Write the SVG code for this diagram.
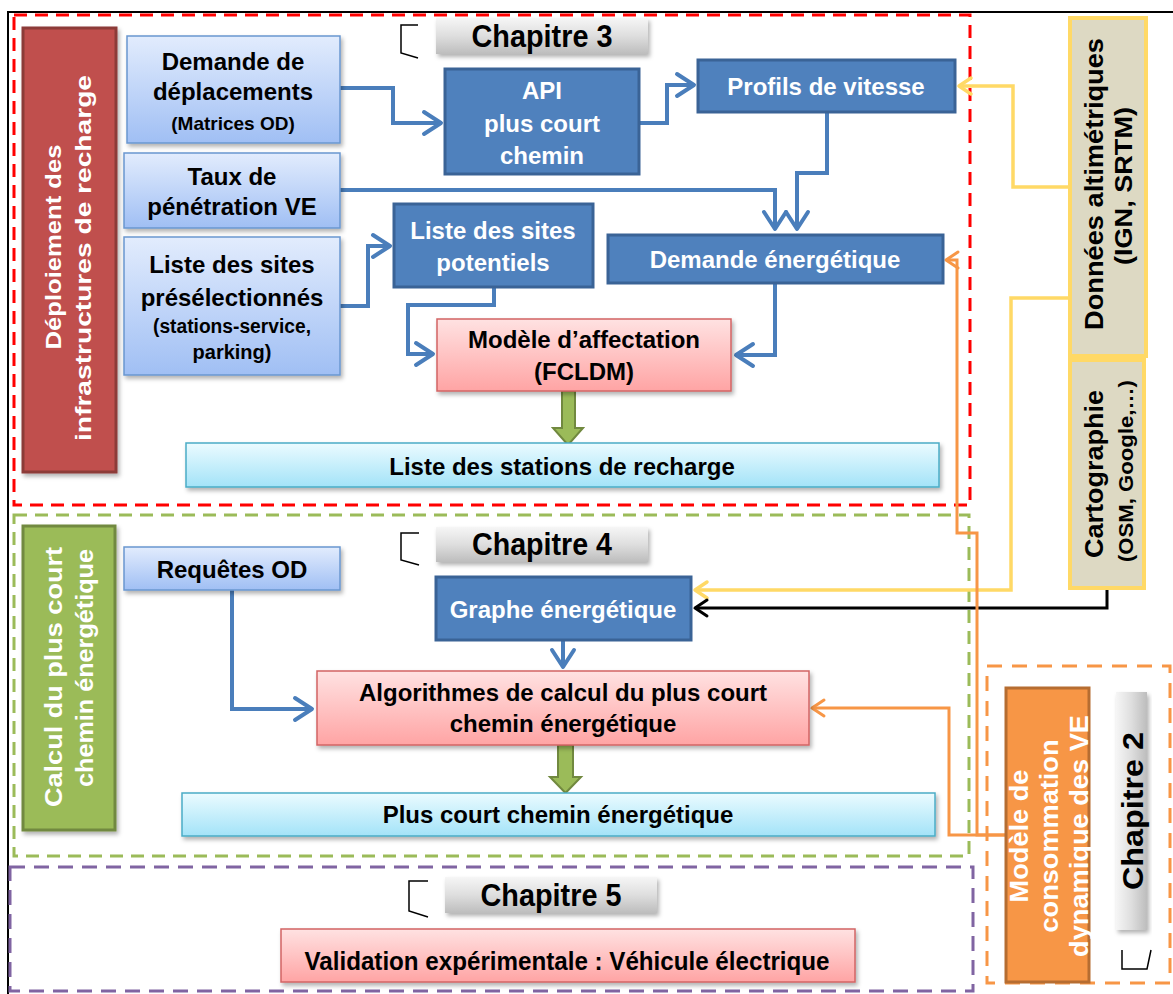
<svg xmlns="http://www.w3.org/2000/svg" width="1173" height="994" viewBox="0 0 1173 994">
<defs>
<style>
.t{font-family:"Liberation Sans",Arial,sans-serif;font-weight:bold;font-size:24px;text-anchor:middle}
.w{fill:#ffffff}
.k{fill:#000000}
.lb{fill:url(#gLB);stroke:#6a97d0;stroke-width:1.5}
.db{fill:#4f81bd;stroke:#3a6396;stroke-width:3}
.pk{fill:url(#gPK);stroke:#d26464;stroke-width:1.5}
.cy{fill:url(#gCY);stroke:#4bacc6;stroke-width:1.5}
.gy{fill:url(#gGR)}
.dat{fill:#ddd9c3;stroke:#ffd966;stroke-width:4}
.frame{fill:none;stroke-width:3}
.br{fill:none;stroke:#000;stroke-width:1.5}
.cb{fill:none;stroke:#4a7ebb;stroke-width:4;marker-end:url(#aB)}
.cyl{fill:none;stroke:#ffd966;stroke-width:3.5;marker-end:url(#aY)}
.ck{fill:none;stroke:#000;stroke-width:3;marker-end:url(#aK)}
.co{fill:none;stroke:#f79646;stroke-width:3;marker-end:url(#aO)}
.ga{fill:#9bbb59;stroke:#71893f;stroke-width:2}
</style>
<linearGradient id="gLB" x1="0" y1="0" x2="0" y2="1"><stop offset="0" stop-color="#e2ecfd"/><stop offset="1" stop-color="#a0bff4"/></linearGradient>
<linearGradient id="gPK" x1="0" y1="0" x2="0" y2="1"><stop offset="0" stop-color="#ffe2e2"/><stop offset="1" stop-color="#ffa4a4"/></linearGradient>
<linearGradient id="gCY" x1="0" y1="0" x2="0" y2="1"><stop offset="0" stop-color="#ebfbff"/><stop offset="1" stop-color="#a3e3f8"/></linearGradient>
<linearGradient id="gGR" x1="0" y1="0" x2="0" y2="1"><stop offset="0" stop-color="#f6f6f6"/><stop offset="0.5" stop-color="#dedede"/><stop offset="1" stop-color="#bdbdbd"/></linearGradient>
<linearGradient id="gGRh" x1="0" y1="0" x2="1" y2="0"><stop offset="0" stop-color="#f6f6f6"/><stop offset="0.5" stop-color="#dedede"/><stop offset="1" stop-color="#bdbdbd"/></linearGradient>
<filter id="sh" x="-10%" y="-10%" width="125%" height="140%"><feDropShadow dx="2" dy="3" stdDeviation="2" flood-color="#000" flood-opacity="0.3"/></filter>
<marker id="aB" markerUnits="userSpaceOnUse" markerWidth="40" markerHeight="40" refX="0" refY="0" orient="auto" overflow="visible"><path d="M-17,-11 L0,0 L-17,11" fill="none" stroke="#4a7ebb" stroke-width="4" stroke-linecap="round" stroke-linejoin="round"/></marker>
<marker id="aY" markerUnits="userSpaceOnUse" markerWidth="30" markerHeight="30" refX="0" refY="0" orient="auto" overflow="visible"><path d="M-12,-8 L0,0 L-12,8" fill="none" stroke="#ffd966" stroke-width="3.5" stroke-linecap="round" stroke-linejoin="round"/></marker>
<marker id="aK" markerUnits="userSpaceOnUse" markerWidth="30" markerHeight="30" refX="0" refY="0" orient="auto" overflow="visible"><path d="M-12,-8 L0,0 L-12,8" fill="none" stroke="#000" stroke-width="3" stroke-linecap="round" stroke-linejoin="round"/></marker>
<marker id="aO" markerUnits="userSpaceOnUse" markerWidth="30" markerHeight="30" refX="0" refY="0" orient="auto" overflow="visible"><path d="M-12,-8 L0,0 L-12,8" fill="none" stroke="#f79646" stroke-width="3" stroke-linecap="round" stroke-linejoin="round"/></marker>
</defs>
<rect x="0" y="0" width="1173" height="994" fill="#ffffff"/>
<path d="M8,994 V12 H1173" fill="none" stroke="#000" stroke-width="2"/>

<g id="frames">
<rect class="frame" x="14" y="15" width="956" height="490" stroke="#ff0000" stroke-dasharray="13 8"/>
<rect class="frame" x="14" y="515" width="955" height="341" stroke="#9bbb59" stroke-dasharray="13 8"/>
<rect class="frame" x="10" y="867" width="963" height="124" stroke="#8064a2" stroke-dasharray="15 9"/>
<rect class="frame" x="987" y="666" width="183" height="317" stroke="#f79646" stroke-dasharray="15 10"/>
</g>

<g id="connectors">
<path class="cb" d="M340,88 H393 V123 H441"/>
<path class="cb" d="M639,123 H667 V85 H694"/>
<path class="cb" d="M340,190 H775 V229"/>
<path class="cb" d="M827,112 V173 H797 V229"/>
<path class="cb" d="M340,306 H368 V246 H390"/>
<path class="cb" d="M494,287 V305 H408 V354 H433"/>
<path class="cb" d="M775,283 V355 H736"/>
<path class="cb" d="M232,590 V709 H312"/>
<path class="cb" d="M563,640 V667"/>
<path class="cyl" d="M1070,187 H1013 V86 H959"/>
<path class="cyl" d="M1070,298 H1011 V590 H695"/>
<path class="ck" d="M1107,588 V608 H695"/>
<path class="co" d="M1006,835 H977 V533 H957 V260 H946"/>
<path class="co" d="M1006,835 H949 V708 H812"/>
<path class="ga" d="M562,391 V428 H553 L568,445 L583,428 H575 V391 Z"/>
<path class="ga" d="M558,745 V777 H550 L565.5,793 L581,777 H573 V745 Z"/>
</g>

<g id="n-deploiement">
<rect x="23" y="28" width="93" height="444" fill="#c0504d" stroke="#8c3a38" stroke-width="3" filter="url(#sh)"/>
<text class="t w" style="font-size:22px" transform="translate(61,247) rotate(-90)" textLength="205" lengthAdjust="spacingAndGlyphs">Déploiement des</text>
<text class="t w" style="font-size:22px" transform="translate(91,258) rotate(-90)" textLength="366" lengthAdjust="spacingAndGlyphs">infrastructures de recharge</text>
</g>

<g id="n-chap3">
<path class="br" d="M418,25 H401 V53 L418,58"/>
<rect class="gy" x="436" y="18" width="212" height="36" filter="url(#sh)"/>
<text class="t k" style="font-size:31px" x="542" y="47" textLength="141" lengthAdjust="spacingAndGlyphs">Chapitre 3</text>
</g>

<g id="n-demande-depl">
<rect class="lb" x="127" y="36" width="213" height="107" filter="url(#sh)"/>
<text class="t k" x="233" y="70">Demande de</text>
<text class="t k" x="233" y="100">déplacements</text>
<text class="t k" style="font-size:19px" x="233" y="130">(Matrices OD)</text>
</g>

<g id="n-taux">
<rect class="lb" x="124" y="153" width="216" height="75" filter="url(#sh)"/>
<text class="t k" x="232" y="185">Taux de</text>
<text class="t k" x="232" y="215">pénétration VE</text>
</g>

<g id="n-sites-presel">
<rect class="lb" x="124" y="237" width="216" height="138" filter="url(#sh)"/>
<text class="t k" x="232" y="273">Liste des sites</text>
<text class="t k" x="232" y="306">présélectionnés</text>
<text class="t k" style="font-size:20px" x="232" y="333" textLength="158" lengthAdjust="spacingAndGlyphs">(stations-service,</text>
<text class="t k" style="font-size:20px" x="232" y="359">parking)</text>
</g>

<g id="n-api">
<rect class="db" x="445" y="69" width="194" height="105"/>
<text class="t w" x="542" y="99">API</text>
<text class="t w" x="542" y="132">plus court</text>
<text class="t w" x="542" y="164">chemin</text>
</g>

<g id="n-profils">
<rect class="db" x="698" y="60" width="257" height="52"/>
<text class="t w" x="826" y="95">Profils de vitesse</text>
</g>

<g id="n-sites-pot">
<rect class="db" x="394" y="204" width="199" height="83"/>
<text class="t w" x="493" y="239">Liste des sites</text>
<text class="t w" x="493" y="271">potentiels</text>
</g>

<g id="n-demande-energ">
<rect class="db" x="608" y="235" width="335" height="48"/>
<text class="t w" x="775" y="268">Demande énergétique</text>
</g>

<g id="n-modele-aff">
<rect class="pk" x="437" y="319" width="294" height="72" filter="url(#sh)"/>
<text class="t k" x="584" y="348">Modèle d’affectation</text>
<text class="t k" x="584" y="380">(FCLDM)</text>
</g>

<g id="n-stations">
<rect class="cy" x="186" y="443" width="753" height="44" filter="url(#sh)"/>
<text class="t k" x="562" y="475">Liste des stations de recharge</text>
</g>

<g id="n-donnees">
<rect class="dat" x="1070" y="18" width="76" height="338"/>
<text class="t k" style="font-size:25px" transform="translate(1103,184) rotate(-90)" textLength="292" lengthAdjust="spacingAndGlyphs">Données altimétriques</text>
<text class="t k" style="font-size:24px" transform="translate(1132,186) rotate(-90)" textLength="158" lengthAdjust="spacingAndGlyphs">(IGN, SRTM)</text>
</g>

<g id="n-carto">
<rect class="dat" x="1070" y="360" width="74" height="228"/>
<text class="t k" style="font-size:25px" transform="translate(1103,474) rotate(-90)" textLength="168" lengthAdjust="spacingAndGlyphs">Cartographie</text>
<text class="t k" style="font-size:20px" transform="translate(1133,471) rotate(-90)" textLength="182" lengthAdjust="spacingAndGlyphs">(OSM, Google,…)</text>
</g>

<g id="n-calcul">
<rect x="23" y="526" width="92" height="304" fill="#9bbb59" stroke="#71893f" stroke-width="3" filter="url(#sh)"/>
<text class="t w" style="font-size:23px" transform="translate(62,677) rotate(-90)" textLength="260" lengthAdjust="spacingAndGlyphs">Calcul du plus court</text>
<text class="t w" style="font-size:23px" transform="translate(93,668) rotate(-90)" textLength="238" lengthAdjust="spacingAndGlyphs">chemin énergétique</text>
</g>

<g id="n-chap4">
<path class="br" d="M419,533 H401 V560 L419,565"/>
<rect class="gy" x="436" y="527" width="212" height="35" filter="url(#sh)"/>
<text class="t k" style="font-size:31px" x="542" y="555" textLength="140" lengthAdjust="spacingAndGlyphs">Chapitre 4</text>
</g>

<g id="n-requetes">
<rect class="lb" x="124" y="547" width="216" height="43" filter="url(#sh)"/>
<text class="t k" x="232" y="578">Requêtes OD</text>
</g>

<g id="n-graphe">
<rect class="db" x="436" y="577" width="255" height="63"/>
<text class="t w" x="563" y="618">Graphe énergétique</text>
</g>

<g id="n-algo">
<rect class="pk" x="317" y="671" width="492" height="74" filter="url(#sh)"/>
<text class="t k" x="563" y="701">Algorithmes de calcul du plus court</text>
<text class="t k" x="563" y="732">chemin énergétique</text>
</g>

<g id="n-pcc">
<rect class="cy" x="182" y="793" width="753" height="43" filter="url(#sh)"/>
<text class="t k" x="558" y="823">Plus court chemin énergétique</text>
</g>

<g id="n-chap5">
<path class="br" d="M428,881 H409 V911 L428,917"/>
<rect class="gy" x="445" y="877" width="212" height="36" filter="url(#sh)"/>
<text class="t k" style="font-size:31px" x="551" y="906" textLength="141" lengthAdjust="spacingAndGlyphs">Chapitre 5</text>
</g>

<g id="n-validation">
<rect class="pk" x="281" y="929" width="574" height="53" filter="url(#sh)"/>
<text class="t k" style="font-size:25px" x="567" y="970" textLength="525" lengthAdjust="spacingAndGlyphs">Validation expérimentale : Véhicule électrique</text>
</g>

<g id="n-modele-conso">
<rect x="1006" y="688" width="83" height="294" fill="#f79646" stroke="#b66d31" stroke-width="3"/>
<text class="t w" style="font-size:25px" transform="translate(1028,836) rotate(-90)" textLength="133" lengthAdjust="spacingAndGlyphs">Modèle de</text>
<text class="t w" style="font-size:25px" transform="translate(1058,836) rotate(-90)" textLength="193" lengthAdjust="spacingAndGlyphs">consommation</text>
<text class="t w" style="font-size:25px" transform="translate(1088,836) rotate(-90)" textLength="242" lengthAdjust="spacingAndGlyphs">dynamique des VE</text>
</g>

<g id="n-chap2">
<rect x="1116" y="692" width="31" height="238" fill="url(#gGRh)" filter="url(#sh)"/>
<text class="t k" style="font-size:30px" transform="translate(1143,811) rotate(-90)" textLength="158" lengthAdjust="spacingAndGlyphs">Chapitre 2</text>
<path class="br" d="M1122,950 V969 H1147 L1151,950"/>
</g>
</svg>
